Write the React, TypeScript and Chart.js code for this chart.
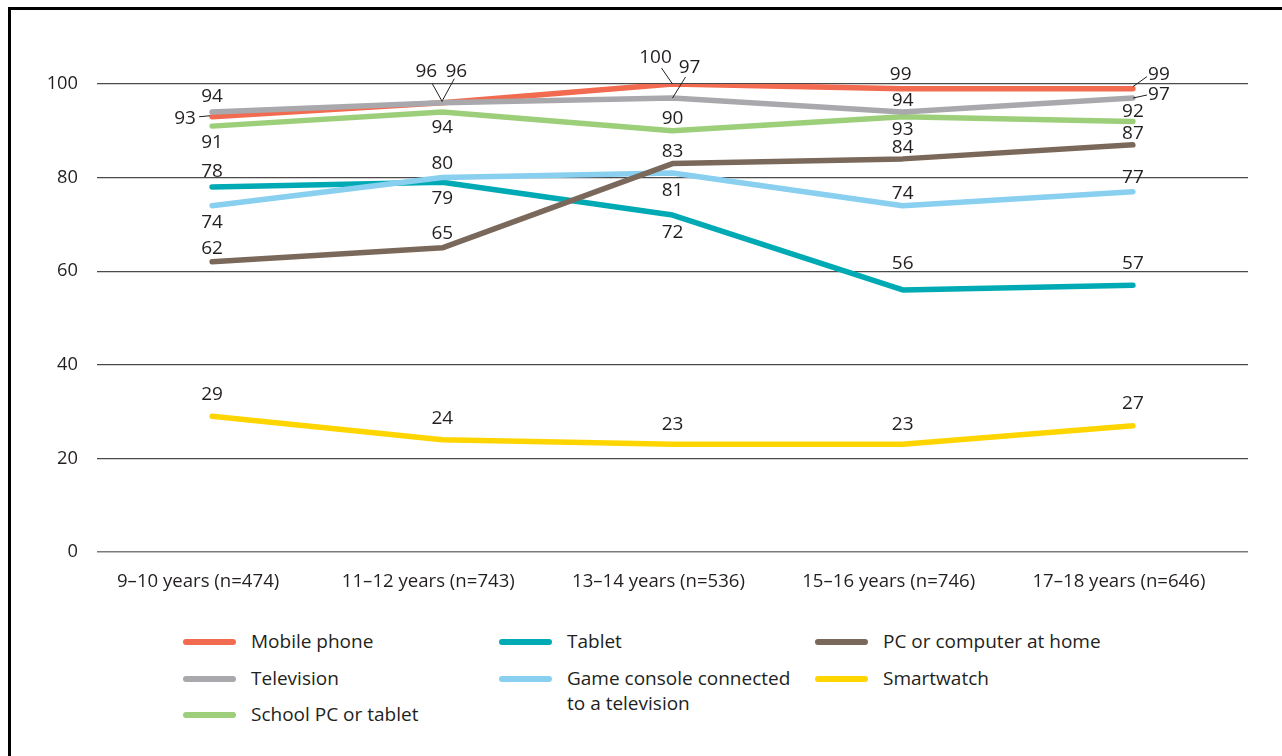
import React, { useEffect, useRef } from "react";
import { Chart, registerables } from "chart.js";

Chart.register(...registerables);

const categories = [
  "9–10 years (n=474)",
  "11–12 years (n=743)",
  "13–14 years (n=536)",
  "15–16 years (n=746)",
  "17–18 years (n=646)",
];

const seriesNames = [
  "Mobile phone",
  "Television",
  "School PC or tablet",
  "Tablet",
  "Game console connected to a television",
  "PC or computer at home",
  "Smartwatch",
];

const mobilePhone = [93, 96, 100, 99, 99];
const television = [94, 96, 97, 94, 97];
const schoolPc = [91, 94, 90, 93, 92];
const tablet = [78, 79, 72, 56, 57];
const gameConsole = [74, 80, 81, 74, 77];
const pcHome = [62, 65, 83, 84, 87];
const smartwatch = [29, 24, 23, 23, 27];

const yMin = 0;
const yMax = 100;
const yStep = 20;

const seriesValues = [mobilePhone, television, schoolPc, tablet, gameConsole, pcHome, smartwatch];
const seriesColors = ["#F26B50", "#A9A9AD", "#9DCF7B", "#00AAB5", "#88CFF0", "#7A695B", "#FFD500"];
// drawing order: lower is on top
const seriesOrder = [1, 0, 2, 5, 4, 3, 6];

// label placement per series/point: [dx, dy, optional leader x1, y1, x2, y2] relative to point
const labelPlacement: number[][][] = [
  [[-27, 1, -13, 0, -2, -1], [-16, -32, 0, -1, -10, -19], [-17, -27, -11, -16, 0, 0], [-2, -15], [26, -15, 0, -2, 14, -12]],
  [[0, -16], [14, -32, 0, -2, 12, -24], [17, -31, 0, 0, 13, -21], [0, -12], [26, -4, 0, 0, 14, -3]],
  [[0, 15], [0, 15], [0, -13], [0, 12], [0, -11]],
  [[0, -16], [0, 15], [0, 17], [0, -27], [0, -23]],
  [[0, 16], [0, -15], [0, 17], [0, -13], [0, -15]],
  [[0, -14], [0, -15], [0, -13], [0, -12], [0, -12]],
  [[0, -23], [0, -22], [0, -21], [0, -21], [0, -23]],
];

const legendColumns = [[0, 1, 2], [3, 4], [5, 6]];

const TEXT = "#231f20";
const FONT = '"Open Sans", "Noto Sans", sans-serif';

const labelPlugin = {
  id: "pointLabels",
  afterDatasetsDraw(chart: any) {
    const ctx = chart.ctx;
    ctx.save();
    ctx.font = `19px ${FONT}`;
    ctx.textAlign = "center";
    ctx.textBaseline = "middle";
    chart.data.datasets.forEach((ds: any, di: number) => {
      const meta = chart.getDatasetMeta(di);
      meta.data.forEach((pt: any, i: number) => {
        const p = labelPlacement[di][i];
        if (p.length > 2) {
          ctx.strokeStyle = TEXT;
          ctx.lineWidth = 1;
          ctx.beginPath();
          ctx.moveTo(pt.x + p[2], pt.y + p[3]);
          ctx.lineTo(pt.x + p[4], pt.y + p[5]);
          ctx.stroke();
        }
        ctx.fillStyle = TEXT;
        ctx.fillText(String(ds.data[i]), pt.x + p[0], pt.y + p[1] + 1);
      });
    });
    ctx.restore();
  },
};

export default function App() {
  const canvasRef = useRef<HTMLCanvasElement | null>(null);

  useEffect(() => {
    if (!canvasRef.current) return;
    const chart = new Chart(canvasRef.current, {
      type: "line",
      data: {
        labels: categories,
        datasets: seriesNames.map((name, i) => ({
          label: name,
          data: seriesValues[i],
          borderColor: seriesColors[i],
          backgroundColor: seriesColors[i],
          borderWidth: 5.5,
          borderCapStyle: "round" as const,
          borderJoinStyle: "round" as const,
          pointRadius: 0,
          tension: 0,
          order: seriesOrder[i],
        })),
      },
      options: {
        responsive: false,
        animation: false,
        layout: { padding: { left: 0, right: 34, top: 84, bottom: 0 } },
        plugins: { legend: { display: false }, tooltip: { enabled: false } },
        scales: {
          x: {
            offset: true,
            grid: { display: false, drawTicks: false },
            border: { display: false },
            ticks: {
              color: TEXT,
              font: { family: FONT, size: 18.6 },
              padding: 19,
              labelOffset: -14,
              maxRotation: 0,
              autoSkip: false,
            },
            afterFit: (scale: any) => {
              scale.height = 68;
            },
          },
          y: {
            min: yMin,
            max: yMax,
            grid: {
              color: (c: any) => (c.tick && c.tick.value === 0 ? "#7a7a7a" : "#4a4a4a"),
              lineWidth: (c: any) => (c.tick && c.tick.value === 0 ? 1.6 : 1.2),
              drawTicks: false,
            },
            border: { display: false },
            ticks: {
              stepSize: yStep,
              color: TEXT,
              font: { family: FONT, size: 18.3 },
              padding: 19,
            },
            afterFit: (scale: any) => {
              scale.width = 97;
            },
          },
        },
      },
      plugins: [labelPlugin],
    });
    return () => chart.destroy();
  }, []);

  const colX = [183, 499, 815];
  const rowY = [642, 679, 715];

  return (
    <div style={{ position: "absolute", left: 0, top: 0, width: 1282, height: 756, background: "#fff", overflow: "hidden", fontFamily: FONT }}>
      <div
        style={{
          position: "absolute",
          left: 8,
          top: 7,
          width: 1300,
          height: 800,
          borderLeft: "3px solid #000",
          borderTop: "3px solid #000",
          boxSizing: "border-box",
        }}
      />
      <canvas ref={canvasRef} width={1282} height={620} style={{ position: "absolute", left: 0, top: 0, width: 1282, height: 620 }} />
      {legendColumns.map((col, ci) =>
        col.map((si, ri) => (
          <div key={si} style={{ position: "absolute", left: colX[ci], top: rowY[ri] - 13, display: "flex", alignItems: "flex-start" }}>
            <div style={{ width: 53, height: 6, borderRadius: 3, background: seriesColors[si], marginTop: 10, flex: "none" }} />
            <div style={{ marginLeft: 15, fontSize: 19, lineHeight: "25px", color: TEXT, width: ci === 1 ? 235 : 300 }}>{seriesNames[si]}</div>
          </div>
        ))
      )}
    </div>
  );
}
